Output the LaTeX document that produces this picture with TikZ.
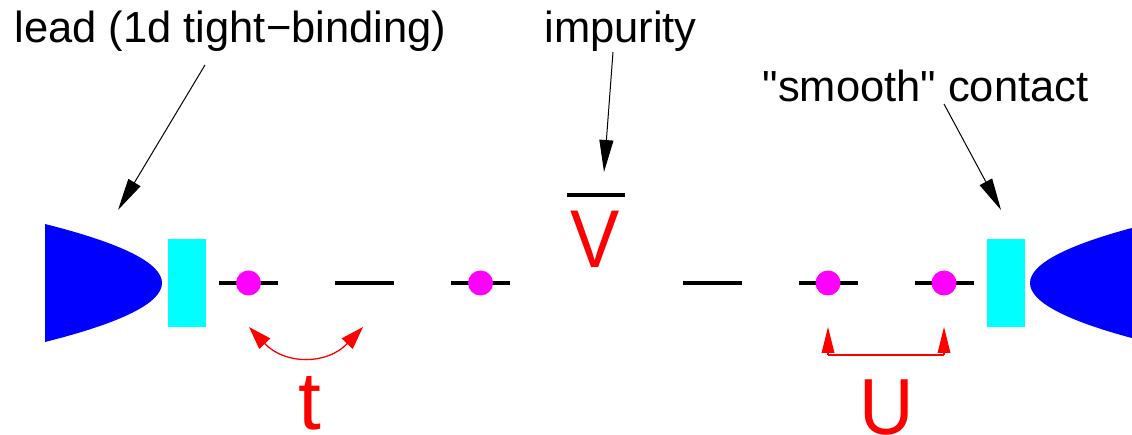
\documentclass[tikz,border=0pt]{standalone}
\usepackage{fontspec}
\newfontfamily\diagfont{Liberation Sans}
\usetikzlibrary{arrows.meta}
\definecolor{siteC}{rgb}{1,0,1}
\definecolor{contactC}{rgb}{0,1,1}
\definecolor{leadC}{rgb}{0,0,1}
\definecolor{symbC}{rgb}{1,0,0}
\tikzset{
  label/.style={inner sep=0pt,font=\diagfont\fontsize{43.5}{50}\selectfont,text=black,anchor=base},
  symb/.style={inner sep=0pt,font=\diagfont\fontsize{82}{90}\selectfont,text=symbC,anchor=base},
  pointer/.style={draw=black,line width=1pt,-{Triangle[length=32pt,width=14pt]}},
  hop/.style={draw=symbC,line width=1.3pt,{Triangle[length=23pt,width=15pt]}-{Triangle[length=23pt,width=15pt]}},
  rep/.style={draw=symbC,line width=1.6pt},
  reptip/.style={draw=none,fill=symbC},
  level/.style={draw=black,line width=4pt},
  site/.style={circle,fill=siteC,minimum size=25pt,inner sep=0pt},
  contact/.style={fill=contactC,draw=none},
  leadbody/.style={fill=leadC,draw=none}
}
\begin{document}
\begin{tikzpicture}[x=1pt,y=-1pt]
\useasboundingbox (0,0) rectangle (1132,435);
\begin{scope}
\clip (0,0) rectangle (1132,435);
% leads
\fill[leadbody] (45,224) .. controls (201,263.3) and (201,302.7) .. (45,342) -- cycle;
\fill[leadbody] (1147,224) .. controls (991,263.3) and (991,302.7) .. (1147,342) -- cycle;
% contacts
\fill[contact] (168,239) rectangle (206,327);
\fill[contact] (987,239) rectangle (1025,327);
% levels
\foreach \n/\c in {a/248.5,b/364.5,c/480.5,d/712.5,e/828.5,f/944.5}{
  \coordinate (l\n) at (\c-29.5,283);
  \coordinate (r\n) at (\c+29.5,283);
  \draw[level] (l\n) -- (r\n);
}
\coordinate (impl) at (567,195);
\coordinate (impr) at (625,195);
\draw[level] (impl) -- (impr);
% occupied sites
\node[site] (s1) at (248.5,283) {};
\node[site] (s2) at (480.5,283) {};
\node[site] (s3) at (828,283) {};
\node[site] (s4) at (944,283) {};
% labels
\node[label] (leadlab) at (230.5,43) {lead (1d tight−binding)};
\node[label] (implab) at (620.5,43) {impurity};
\node[label] (smoothlab) at (925.5,102) {"smooth" contact};
\node[symb] (V) at (595,268) {\scalebox{0.9}[1]{V}};
\node[symb] (t) at (310,429) {t};
\node[symb] (U) at (887,434) {\scalebox{0.92}[0.97]{U}};
% pointers
\coordinate (leadfrom) at (205,65);
\coordinate (leadto) at (118,210);
\coordinate (impfrom) at (613,52);
\coordinate (impto) at (604,172);
\coordinate (smoothfrom) at (944,104);
\coordinate (smoothto) at (1001,210);
\draw[pointer] (leadfrom) -- (leadto);
\draw[pointer] (impfrom) -- (impto);
\draw[pointer] (smoothfrom) -- (smoothto);
% hopping
\coordinate (ht1) at (249,327);
\coordinate (ht2) at (363,327);
\draw[hop] (ht1) .. controls (285,365) and (327,365) .. (ht2);
% interaction
\coordinate (u1) at (828,327);
\coordinate (u2) at (944,327);
\coordinate (u1b) at (828,355);
\coordinate (u2b) at (944,355);
\draw[rep] (u1b) -- (u2b);
\fill[reptip] (828,327) -- (834.5,353) -- (821.5,353) -- cycle;
\fill[reptip] (944,327) -- (950.5,353) -- (937.5,353) -- cycle;
\draw[rep] (u1) ++(0,22) -- (u1b);
\draw[rep] (u2) ++(0,22) -- (u2b);
\end{scope}
\end{tikzpicture}
\end{document}
